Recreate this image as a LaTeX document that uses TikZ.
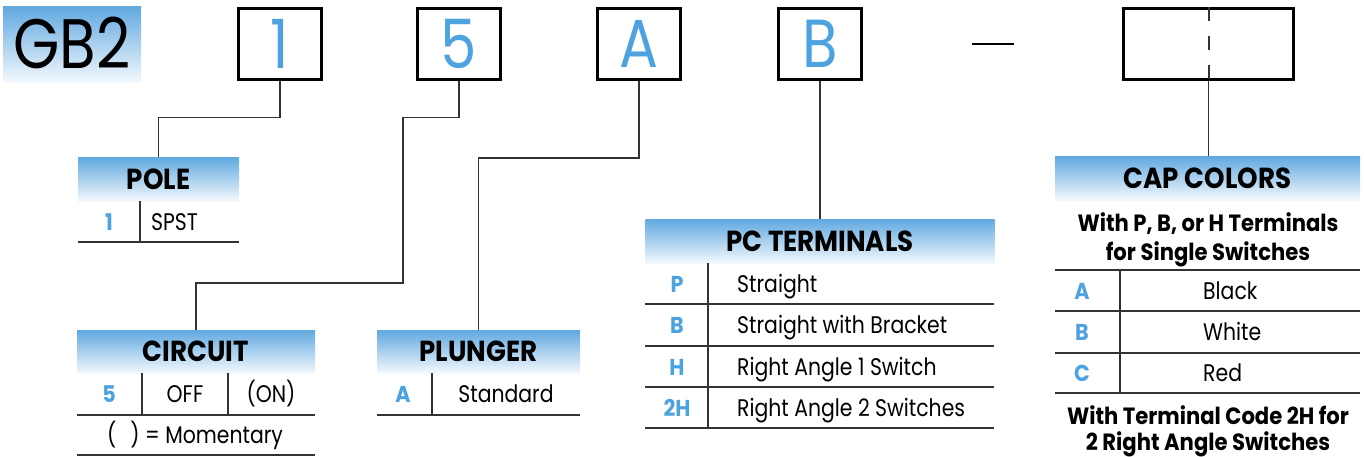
\documentclass[tikz,border=0pt]{standalone}
\usepackage{fontspec}
\setmainfont{Poppins}[FakeStretch=0.85, BoldFeatures={FakeStretch=0.9}]
\usetikzlibrary{calc, positioning}
\definecolor{codeblue}{HTML}{4DA2E0}
\definecolor{hdrtop}{HTML}{60A8E0}
\definecolor{hdrbot}{HTML}{F3F8FD}
\definecolor{rulegray}{HTML}{333333}
\tikzset{
    codebox/.style={draw=black, line width=3pt, minimum width=83pt, minimum height=71pt,
        inner sep=0pt, text=codeblue, font=\fontsize{68}{68}\selectfont},
    header/.style={top color=hdrtop, bottom color=hdrbot, minimum height=44pt, inner sep=0pt,
        text height=20pt, text depth=0pt, font=\bfseries\fontsize{29}{29}\selectfont},
    cell/.style={inner sep=0pt, text height=17pt, text depth=0pt, font=\fontsize{24}{24}\selectfont},
    code/.style={cell, text=codeblue, font=\bfseries\fontsize{23}{23}\selectfont},
    note/.style={inner sep=0pt, text height=16pt, text depth=0pt, font=\bfseries\fontsize{23.5}{23.5}\selectfont},
    link/.style={draw=rulegray, line width=1.5pt},
    tline/.style={draw=rulegray, line width=1.5pt}
}
\begin{document}
\begin{tikzpicture}[x=1pt, y=-1pt]
    \useasboundingbox (0,0) rectangle (1364,456);
    % part number boxes
    \node[top color=hdrtop, bottom color=hdrbot, minimum width=138pt, minimum height=76pt, inner sep=0pt,
        text height=49pt, text depth=0pt, font=\fontsize{70}{70}\selectfont] (series) at (72,44) {GB2};
    \node[codebox] (box1) at (280,44) {1};
    \node[codebox] (box5) at (459,44) {5};
    \node[codebox] (boxA) at (639,44) {A};
    \node[codebox] (boxB) at (820,44) {B};
    \draw[line width=2.5pt] (972,44) -- (1014,44);
    \node[codebox, minimum width=170pt] (boxcap) at (1208.5,44) {};
    \draw[draw=rulegray, line width=2pt, dash pattern=on 14pt off 15pt] (boxcap.north) -- (boxcap.south);

    % POLE
    \node[header, minimum width=161pt] (pole) at (158.5,179) {POLE};
    \draw[tline] (140,201) -- (140,242);
    \draw[tline] (78,242) -- (239,242);
    \node[code] (pole1) at (109,222) {1};
    \node[cell, anchor=west] (spst) at (151,222) {SPST};

    % CIRCUIT
    \node[header, minimum width=238pt, minimum height=43pt] (circuit) at (196,351.5) {CIRCUIT};
    \draw[tline] (142,373) -- (142,415);
    \draw[tline] (228,373) -- (228,415);
    \draw[tline] (77,415) -- (315,415);
    \draw[tline] (77,455) -- (315,455);
    \node[code] (circ5) at (109,394) {5};
    \node[cell] (off) at (185,394) {OFF};
    \node[cell] (on) at (271,394) {(ON)};
    \node[cell] (moment) at (195,435) {(\hspace{14pt}) = Momentary};

    % PLUNGER
    \node[header, minimum width=203pt, minimum height=43pt] (plunger) at (478.5,351.5) {PLUNGER};
    \draw[tline] (432,373) -- (432,415);
    \draw[tline] (377,415) -- (580,415);
    \node[code] (plungA) at (403,394) {A};
    \node[cell] (std) at (506,394) {Standard};

    % PC TERMINALS
    \node[header, minimum width=349pt] (pcterm) at (820,241) {PC TERMINALS};
    \draw[tline] (708,263) -- (708,428);
    \foreach \y in {304,346,387,428}
        \draw[tline] (645,\y) -- (994,\y);
    \foreach \c/\t/\y [count=\i] in {P/Straight/283.5, B/Straight with Bracket/325,
            H/Right Angle 1 Switch/366.5, 2H/Right Angle 2 Switches/407.5} {
        \node[code] (term\i) at (677,\y) {\c};
        \node[cell, anchor=west] (termtxt\i) at (737,\y) {\t};
    }

    % CAP COLORS
    \node[header, minimum width=305pt] (capcol) at (1207.5,178) {CAP COLORS};
    \node[note] (single1) at (1208,223) {With P, B, or H Terminals};
    \node[note] (single2) at (1208,252) {for Single Switches};
    \foreach \y in {270,311,353,393}
        \draw[tline] (1055,\y) -- (1360,\y);
    \draw[tline] (1120,270) -- (1120,393);
    \foreach \c/\t/\y [count=\i] in {A/Black/290.5, B/White/332, C/Red/373} {
        \node[code] (cap\i) at (1082,\y) {\c};
        \node[cell, anchor=west] (captxt\i) at (1203,\y) {\t};
    }
    \node[note] (double1) at (1208,416) {With Terminal Code 2H for};
    \node[note] (double2) at (1208,442) {2 Right Angle Switches};

    % connectors
    \coordinate (bend5) at (403,283);
    \draw[link] (box1.south) -- ++(0,36.5) -| (pole.north);
    \draw[link] (box5.south) -- ++(0,36.5) -| (bend5) -| (circuit.north);
    \draw[link] (boxA.south) -- ++(0,77) -| (plunger.north);
    \draw[link] (boxB.south) -- (boxB.south |- pcterm.north);
    \draw[link] (boxcap.south) -- (boxcap.south |- capcol.north);
\end{tikzpicture}
\end{document}
